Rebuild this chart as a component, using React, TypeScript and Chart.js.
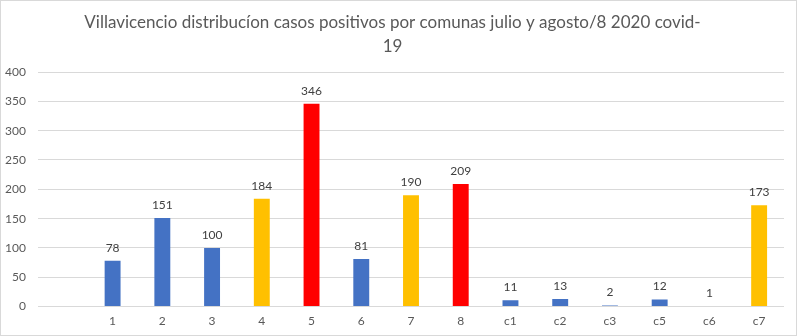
import React, { useEffect, useRef } from "react";
import { Chart, registerables } from "chart.js";

Chart.register(...registerables);

const TITLE = [
  "Villavicencio distribucíon casos positivos por comunas julio y agosto/8 2020 covid-",
  "19",
];
const categories = ["", "1", "2", "3", "4", "5", "6", "7", "8", "c1", "c2", "c3", "c5", "c6", "c7"];
const casos: (number | null)[] = [null, 78, 151, 100, 184, 346, 81, 190, 209, 11, 13, 2, 12, 1, 173];
const grupo = ["", "b", "b", "b", "y", "r", "b", "y", "r", "b", "b", "b", "b", "b", "y"];
const COLORS: Record<string, string> = { b: "#4472C4", y: "#FFC000", r: "#FF0000", "": "#4472C4" };

const FONT = "Lato, 'Open Sans', sans-serif";

const labelPlugin = {
  id: "valueLabels",
  afterDatasetsDraw(chart: any) {
    const ctx = chart.ctx;
    const meta = chart.getDatasetMeta(0);
    ctx.save();
    ctx.fillStyle = "#404040";
    ctx.font = `12px ${FONT}`;
    ctx.textAlign = "center";
    ctx.textBaseline = "middle";
    meta.data.forEach((bar: any, i: number) => {
      const v = casos[i];
      if (v === null || v === undefined) return;
      ctx.fillText(String(v), bar.x, bar.y - 13);
    });
    ctx.restore();
  },
};

export default function App() {
  const ref = useRef<HTMLCanvasElement>(null);
  useEffect(() => {
    document.body.style.margin = "0";
    const chart = new Chart(ref.current!, {
      type: "bar",
      data: {
        labels: categories,
        datasets: [
          {
            data: casos,
            backgroundColor: grupo.map((g) => COLORS[g]),
            barPercentage: 0.32,
            categoryPercentage: 1,
          },
        ],
      },
      options: {
        animation: false,
        responsive: false,
        layout: { padding: { left: 0, right: 12, top: 0, bottom: 0 } },
        plugins: {
          legend: { display: false },
          tooltip: { enabled: false },
          title: {
            display: true,
            text: TITLE,
            color: "#595959",
            font: { family: FONT, size: 17, weight: "normal", lineHeight: "24px" as any },
            padding: { top: 10, bottom: 13 },
          },
        },
        scales: {
          x: {
            grid: { display: false, drawTicks: false },
            border: { display: false },
            ticks: { color: "#595959", font: { family: FONT, size: 12 }, padding: 7, autoSkip: false, maxRotation: 0 },
          },
          y: {
            min: 0,
            max: 400,
            afterFit: (s: any) => { s.width = 37; },
            grid: { color: "#d9d9d9", drawTicks: false },
            border: { display: false },
            ticks: { stepSize: 50, color: "#595959", font: { family: FONT, size: 12 }, padding: 12 },
          },
        },
      },
      plugins: [labelPlugin],
    });
    return () => chart.destroy();
  }, []);
  return (
    <div
      style={{
        position: "absolute",
        left: 0,
        top: 0,
        width: 797,
        height: 336,
        boxSizing: "border-box",
        border: "1px solid #d9d9d9",
        background: "#fff",
      }}
    >
      <canvas ref={ref} width={795} height={334} />
    </div>
  );
}
